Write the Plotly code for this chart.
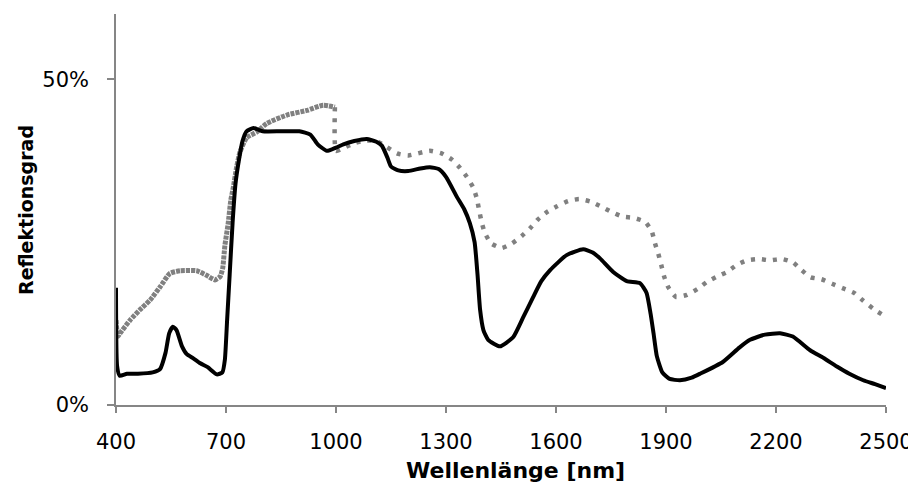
import plotly.graph_objects as go

# Black (solid) spectrum
black_nm = [400, 403, 410, 430, 460, 500, 520, 535, 545, 555, 565, 580, 593, 610, 630, 650,
            675, 690, 697, 703, 710, 718, 726, 735, 745, 756, 775, 800, 850, 900, 930, 950,
            975, 1000, 1020, 1050, 1084, 1110, 1125, 1140, 1150, 1170, 1197, 1230, 1256, 1280,
            1300, 1330, 1350, 1365, 1378, 1386, 1393, 1402, 1415, 1447, 1483, 1510, 1538, 1560,
            1584, 1629, 1674, 1700, 1720, 1756, 1793, 1829, 1847, 1858, 1866, 1875, 1890, 1910,
            1938, 1970, 1993, 2055, 2100, 2129, 2170, 2211, 2246, 2293, 2330, 2366, 2400, 2438,
            2470, 2500]
black_refl = [0.18, 0.06, 0.045, 0.048, 0.048, 0.05, 0.055, 0.08, 0.11, 0.12, 0.115, 0.09, 0.078,
              0.072, 0.064, 0.058, 0.047, 0.05, 0.07, 0.13, 0.2, 0.28, 0.34, 0.375, 0.405, 0.42,
              0.425, 0.42, 0.42, 0.42, 0.415, 0.40, 0.39, 0.395, 0.40, 0.405, 0.408, 0.404, 0.398,
              0.38, 0.366, 0.36, 0.359, 0.363, 0.365, 0.362, 0.35, 0.319, 0.30, 0.279, 0.25, 0.2,
              0.146, 0.115, 0.10, 0.09, 0.104, 0.134, 0.166, 0.19, 0.207, 0.23, 0.239, 0.234,
              0.225, 0.204, 0.19, 0.187, 0.172, 0.14, 0.11, 0.075, 0.05, 0.04, 0.038, 0.042,
              0.048, 0.066, 0.088, 0.10, 0.108, 0.11, 0.105, 0.084, 0.072, 0.059, 0.048, 0.038,
              0.032, 0.026]

# Grey (dotted) spectrum
grey_nm = [400, 405, 411, 438, 465, 493, 520, 547, 575, 620, 647, 670, 684, 691, 697, 706, 713,
           720, 729, 738, 756, 784, 811, 866, 920, 965, 997,
           1000, 1019, 1052, 1084, 1111, 1138, 1166, 1197, 1256, 1288, 1315, 1338, 1357, 1374,
           1384, 1390, 1397, 1406, 1423, 1452, 1480, 1506, 1529, 1551, 1575, 1603, 1633, 1663,
           1695, 1725, 1752, 1782, 1813, 1843, 1861, 1870, 1879, 1887, 1895, 1907, 1927, 1957,
           1986, 2012, 2039, 2066, 2093, 2121, 2153, 2185, 2216, 2246, 2270, 2294, 2324, 2353,
           2383, 2413, 2438, 2467, 2500]
grey_refl = [0.13, 0.105, 0.11, 0.13, 0.146, 0.161, 0.181, 0.202, 0.206, 0.206, 0.199, 0.192,
             0.197, 0.21, 0.245, 0.279, 0.314, 0.334, 0.365, 0.388, 0.41, 0.419, 0.432, 0.445,
             0.452, 0.46, 0.457,
             0.39, 0.394, 0.402, 0.406, 0.405, 0.396, 0.386, 0.383, 0.39, 0.386, 0.377, 0.364,
             0.35, 0.334, 0.317, 0.30, 0.281, 0.264, 0.248, 0.241, 0.248, 0.259, 0.271, 0.285,
             0.296, 0.305, 0.313, 0.316, 0.312, 0.304, 0.296, 0.289, 0.287, 0.281, 0.267, 0.248,
             0.232, 0.215, 0.197, 0.18, 0.166, 0.169, 0.178, 0.189, 0.197, 0.204, 0.215, 0.222,
             0.224, 0.222, 0.224, 0.219, 0.207, 0.196, 0.193, 0.186, 0.179, 0.172, 0.16, 0.147,
             0.135]

x_ticks = [400, 700, 1000, 1300, 1600, 1900, 2200, 2500]
y_ticks = [0, 0.5]

split = grey_nm.index(997)  # end of the dense (VIS) section

FONT = "DejaVu Sans"
GREY = "#808080"
AX = "#868686"

fig = go.Figure()
fig.add_trace(go.Scatter(x=grey_nm[:split + 1], y=grey_refl[:split + 1], mode="lines",
                         line=dict(color=GREY, width=5, dash="4px,1px", shape="spline", smoothing=0.5),
                         showlegend=False, hoverinfo="skip"))
fig.add_trace(go.Scatter(x=grey_nm[split:], y=grey_refl[split:], mode="lines",
                         line=dict(color=GREY, width=4.5, dash="4px,7px", shape="spline", smoothing=0.5),
                         showlegend=False, hoverinfo="skip"))
fig.add_trace(go.Scatter(x=black_nm, y=black_refl, mode="lines",
                         line=dict(color="black", width=4, shape="spline", smoothing=0.5),
                         showlegend=False, hoverinfo="skip"))

fig.update_layout(
    width=916, height=492,
    margin=dict(l=108, r=38, t=6, b=95),
    paper_bgcolor="white", plot_bgcolor="white",
    font=dict(family=FONT, size=21, color="black"),
    xaxis=dict(range=[400, 2500], tickvals=x_ticks, ticktext=[str(v) for v in x_ticks],
               showgrid=False, zeroline=False, showline=True, linecolor=AX, linewidth=1.5,
               ticks="outside", ticklen=6, tickcolor=AX, tickwidth=1.5,
               ticklabelstandoff=11, tickfont=dict(size=21)),
    yaxis=dict(range=[0, 0.6], tickvals=y_ticks, tickformat=".0%",
               showgrid=False, zeroline=False, showline=True, linecolor=AX, linewidth=1.5,
               ticks="outside", ticklen=7, tickcolor=AX, tickwidth=1.5,
               ticklabelstandoff=14, tickfont=dict(size=21)),
    annotations=[
        dict(text="<b>Wellenlänge [nm]</b>", xref="paper", yref="paper",
             x=(516 - 116) / 770, y=-(470 - 405) / 391, xanchor="center", yanchor="middle",
             showarrow=False, font=dict(family=FONT, size=22)),
        dict(text="<b>Reflektionsgrad</b>", xref="paper", yref="paper",
             x=-(116 - 26) / 770, y=(405 - 210) / 391, xanchor="center", yanchor="middle",
             textangle=-90, showarrow=False, font=dict(family=FONT, size=19)),
    ],
)

fig.write_html("out.html")
